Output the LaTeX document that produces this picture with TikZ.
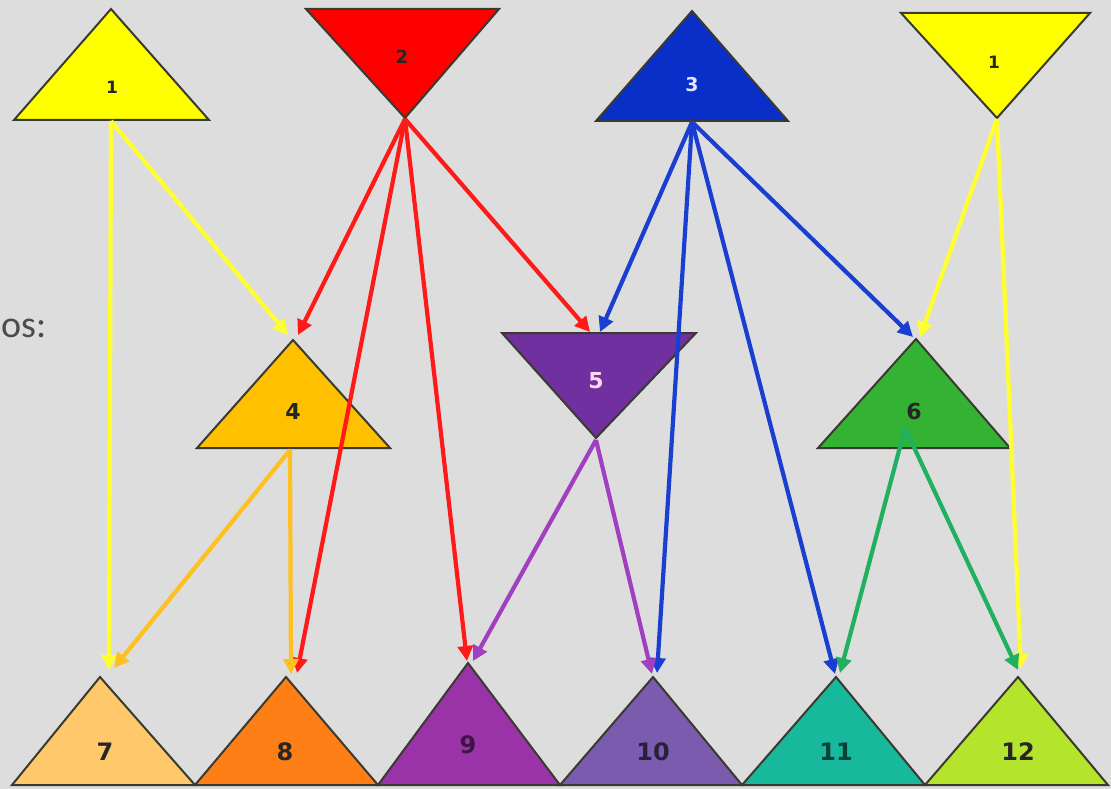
\documentclass[tikz,border=0pt]{standalone}
\usepackage{fontspec}
\setmainfont{DejaVu Sans}
\newfontfamily\sidefont{Carlito}
\usetikzlibrary{arrows.meta}
\definecolor{bg}{HTML}{DDDDDD}
\definecolor{edge}{HTML}{3A3A30}
\definecolor{cyel}{HTML}{FFFF00}
\definecolor{cred}{HTML}{FF0000}
\definecolor{cblue}{HTML}{0A2FC8}
\definecolor{cfour}{HTML}{FFC000}
\definecolor{cfive}{HTML}{7030A0}
\definecolor{csix}{HTML}{33B233}
\definecolor{cseven}{HTML}{FFC96B}
\definecolor{ceight}{HTML}{FF7F17}
\definecolor{cnine}{HTML}{9A32A8}
\definecolor{cten}{HTML}{7B5BAD}
\definecolor{celeven}{HTML}{17B89C}
\definecolor{ctwelve}{HTML}{B4E52C}
\definecolor{ayel}{HTML}{FFFF30}
\definecolor{ared}{HTML}{FF1A1A}
\definecolor{ablue}{HTML}{1A3FD0}
\definecolor{afour}{HTML}{FFC020}
\definecolor{afive}{HTML}{A040C0}
\definecolor{asix}{HTML}{20B060}
\tikzset{
  tri/.style={draw=edge, line width=2pt, line join=miter},
  lab/.style={font=\bfseries\fontsize{#1}{#1}\selectfont, text=black!85, inner sep=0pt},
  lab/.default=18,
  arr/.style={line width=4.2pt, draw=#1, -{Triangle[length=15pt,width=15pt,fill=#1]}}
}
\begin{document}
\begin{tikzpicture}[x=1pt,y=-1pt]
\fill[bg] (0,0) rectangle (1111,789);
\useasboundingbox (0,0) rectangle (1111,789);

% side text
\node[anchor=west, font=\sidefont\fontsize{38}{38}\selectfont, text=black!70, inner sep=0pt] (side) at (1,328) {os:};

% top row
\filldraw[tri, fill=cyel] (111,9) -- (209,120) -- (14,120) -- cycle;
\filldraw[tri, fill=cred] (306,9) -- (499,9) -- (405,118) -- cycle;
\filldraw[tri, fill=cblue] (692,11) -- (788,121) -- (596,121) -- cycle;
\filldraw[tri, fill=cyel] (901,13) -- (1090,13) -- (997,118) -- cycle;
% middle row
\filldraw[tri, fill=cfour] (293,340) -- (390,448) -- (197,448) -- cycle;
\filldraw[tri, fill=cfive] (502,333) -- (696,333) -- (596,438) -- cycle;
\filldraw[tri, fill=csix] (916,339) -- (1010,448) -- (818,448) -- cycle;
% bottom row
\filldraw[tri, fill=cseven] (100,677) -- (195,785) -- (12,785) -- cycle;
\filldraw[tri, fill=ceight] (286,677) -- (378,785) -- (195,785) -- cycle;
\filldraw[tri, fill=cnine] (468,663) -- (560,785) -- (378,785) -- cycle;
\filldraw[tri, fill=cten] (653,677) -- (742,785) -- (560,785) -- cycle;
\filldraw[tri, fill=celeven] (836,677) -- (925,785) -- (742,785) -- cycle;
\filldraw[tri, fill=ctwelve] (1018,677) -- (1108,785) -- (925,785) -- cycle;

% labels
\node[lab=17] (n1a) at (112,87) {1};
\node[lab=18] (n2) at (402,57) {2};
\node[lab=19, text=white!90!blue] (n3) at (692,85) {3};
\node[lab=17] (n1b) at (994,62) {1};
\node[lab=22] (n4) at (293,411) {4};
\node[lab=22, text=white!85!magenta] (n5) at (596,381) {5};
\node[lab=22] (n6) at (914,411) {6};
\node[lab=24] (n7) at (105,752) {7};
\node[lab=24] (n8) at (285,752) {8};
\node[lab=24, text=cnine!40!black] (n9) at (468,745) {9};
\node[lab=24, text=cten!35!black] (n10) at (653,752) {10};
\node[lab=24, text=celeven!35!black] (n11) at (836,752) {11};
\node[lab=24] (n12) at (1018,752) {12};

% connection points
\coordinate (s1a) at (111,121);
\coordinate (s2) at (405,119);
\coordinate (s3) at (692,122);
\coordinate (s1b) at (997,119);
\coordinate (s4) at (290,450);
\coordinate (s5) at (596,440);
\coordinate (s6) at (905,428);
\coordinate (e4a) at (288,335);
\coordinate (e4b) at (298,335);
\coordinate (e5a) at (590,332);
\coordinate (e5b) at (600,332);
\coordinate (e6a) at (913,337);
\coordinate (e6b) at (920,337);
\coordinate (e7a) at (109,670);
\coordinate (e7b) at (114,668);
\coordinate (e8a) at (291,674);
\coordinate (e8b) at (297,673);
\coordinate (e9a) at (467,661);
\coordinate (e9b) at (473,661);
\coordinate (e10a) at (652,674);
\coordinate (e10b) at (657,673);
\coordinate (e11a) at (835,674);
\coordinate (e11b) at (840,673);
\coordinate (e12a) at (1018,670);
\coordinate (e12b) at (1021,669);

% arrows from 1 (left)
\draw[arr=ayel] (s1a) -- (e7a);
\draw[arr=ayel] (s1a) -- (e4a);
% arrows from 2
\draw[arr=ared] (s2) -- (e4b);
\draw[arr=ared] (s2) -- (e8b);
\draw[arr=ared] (s2) -- (e9a);
\draw[arr=ared] (s2) -- (e5a);
% arrows from 3
\draw[arr=ablue] (s3) -- (e5b);
\draw[arr=ablue] (s3) -- (e10b);
\draw[arr=ablue] (s3) -- (e11a);
\draw[arr=ablue] (s3) -- (e6a);
% arrows from 1 (right)
\draw[arr=ayel] (s1b) -- (e6b);
\draw[arr=ayel] (s1b) -- (e12b);
% arrows from 4
\draw[arr=afour] (s4) -- (e7b);
\draw[arr=afour] (s4) -- (e8a);
% arrows from 5
\draw[arr=afive] (s5) -- (e9b);
\draw[arr=afive] (s5) -- (e10a);
% arrows from 6
\draw[arr=asix] (s6) -- (e11b);
\draw[arr=asix] (s6) -- (e12a);
\end{tikzpicture}
\end{document}
